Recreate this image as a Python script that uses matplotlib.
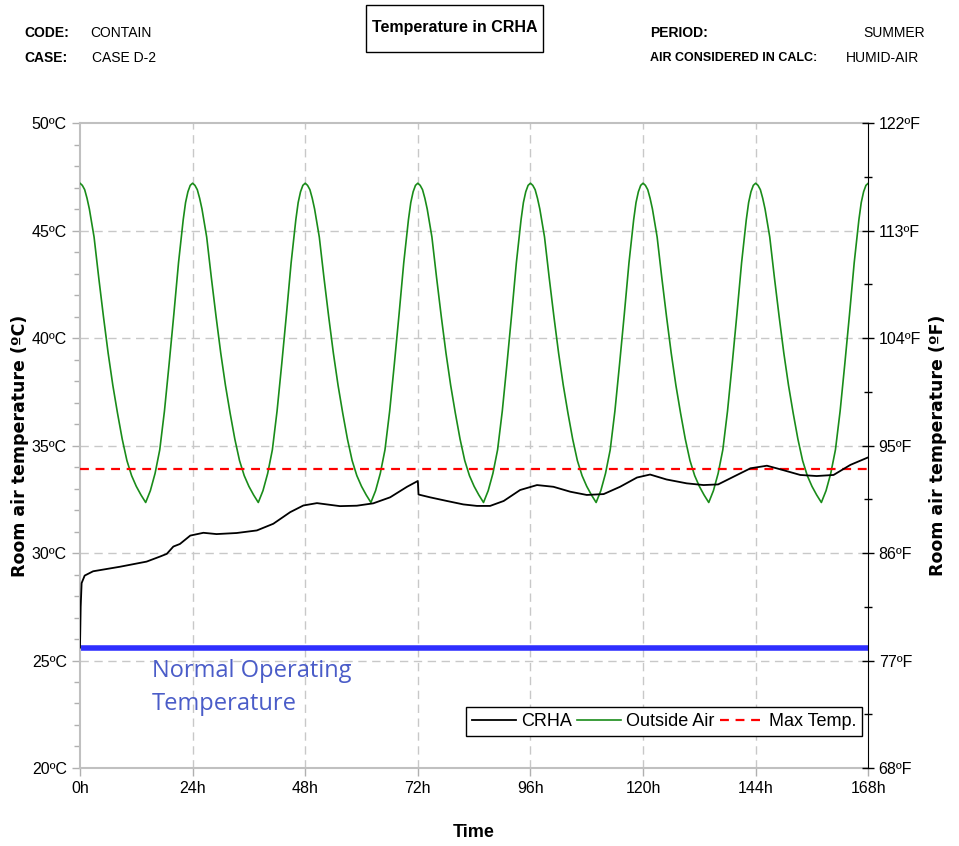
import matplotlib
matplotlib.use("Agg")
import matplotlib.pyplot as plt
import matplotlib.patches as mpatches
import numpy as np
from matplotlib.ticker import MultipleLocator, FixedLocator

# ── Data ──────────────────────────────────────────────────────────────────────
# Outside air: one daily cycle (hours from the peak), repeated every 24 h
OUT_HOURS = [0, 0.5, 1, 1.5, 2, 3, 4, 5, 6, 7, 8, 9, 10, 11, 12, 13, 14,
             15, 16, 17, 18, 19, 20, 21, 22, 22.5, 23, 23.5]
OUT_VALS = [47.2, 47.1, 46.9, 46.5, 46.0, 44.7, 42.8, 41.0, 39.3, 37.8, 36.5, 35.3,
            34.3, 33.6, 33.1, 32.7, 32.35, 32.9, 33.7, 34.8, 36.6, 38.8, 41.1, 43.5,
            45.5, 46.3, 46.8, 47.1]
N_DAYS = 7

# CRHA room temperature
CRHA_T = [0, 0.15, 0.35, 1, 2.8, 8.5, 14.2, 17, 18.5, 19.9, 21.3, 23.5, 26.3, 29.1,
          33.4, 37.7, 41.2, 44.8, 47.6, 50.5, 52.6, 55.4, 59, 62.5, 66.1, 69.7, 72.0,
          72.15, 74.6, 78.2, 81.7, 84.6, 87.4, 90.3, 93.8, 97.4, 100.9, 104.5, 108,
          111.6, 115.1, 118.7, 121.5, 125, 129.3, 132.9, 136, 139.3, 142.9, 146.4,
          149.3, 153.5, 157, 160.6, 164.2, 168]
CRHA_V = [25.6, 27.5, 28.6, 28.95, 29.15, 29.36, 29.6, 29.83, 29.96, 30.3, 30.42, 30.81,
          30.94, 30.88, 30.93, 31.05, 31.36, 31.9, 32.21, 32.32, 32.26, 32.18, 32.2, 32.31,
          32.59, 33.08, 33.35, 32.72, 32.59, 32.42, 32.26, 32.19, 32.19, 32.42, 32.93,
          33.16, 33.08, 32.85, 32.7, 32.74, 33.08, 33.51, 33.65, 33.42, 33.24, 33.16,
          33.19, 33.55, 33.94, 34.06, 33.89, 33.63, 33.58, 33.63, 34.1, 34.45]

MAX_TEMP = 33.9
NORMAL_TEMP = 25.6

X_TICKS = [0, 24, 48, 72, 96, 120, 144, 168]
C_TICKS = [20, 25, 30, 35, 40, 45, 50]
F_TICKS = [68, 77, 86, 95, 104, 113, 122]

plt.rcParams["font.family"] = ["Liberation Sans", "DejaVu Sans"]

# tile the daily cycle over the week (same read values each day)
out_t = np.concatenate([np.array(OUT_HOURS) + 24 * d for d in range(N_DAYS)] + [[168]])
out_v = np.concatenate([OUT_VALS] * N_DAYS + [[OUT_VALS[0]]])

fig = plt.figure(figsize=(9.59, 8.46), dpi=100)
ax = fig.add_axes([0.0834, 0.0922, 0.8220, 0.7624])

GRID = "#c8c8c8"
for x in X_TICKS[1:-1]:
    ax.axvline(x, color=GRID, ls=(0, (6, 4)), lw=1.0, zorder=0)
for y in C_TICKS[1:-1]:
    ax.axhline(y, color=GRID, ls=(0, (6, 4)), lw=1.0, zorder=0)

ax.axhline(NORMAL_TEMP, color="#2f2fff", lw=4, zorder=2)
ax.plot(out_t, out_v, color="#1a8c1a", lw=1.2, label="Outside Air", zorder=3)
ax.plot(CRHA_T, CRHA_V, color="black", lw=1.3, label="CRHA", zorder=4)
ax.axhline(MAX_TEMP, color="#ff0000", ls=(0, (4, 3)), lw=1.6, label="Max Temp.", zorder=3)

ax.set_xlim(0, 168)
ax.set_ylim(20, 50)
ax.set_xticks(X_TICKS)
ax.set_xticklabels([f"{x}h" for x in X_TICKS])
ax.set_yticks(C_TICKS)
ax.set_yticklabels([f"{c}ºC" for c in C_TICKS])
ax.yaxis.set_minor_locator(MultipleLocator(1))
ax.tick_params(axis="both", labelsize=11.5, color="#b0b0b0", length=6, width=1)
ax.tick_params(axis="y", which="minor", color="#b0b0b0", length=4, width=1)
for s in ax.spines.values():
    s.set_color("#c0c0c0")
    s.set_linewidth(1.5)
ax.spines["right"].set_visible(False)

ax.set_ylabel("Room air temperature (ºC)", fontsize=12.5, fontweight="bold",
              family="DejaVu Sans", labelpad=2)
ax.set_xlabel("Time", fontsize=13, fontweight="bold", labelpad=20)

# Right axis in ºF
ax2 = ax.twinx()
ax2.set_ylim(68, 122)
ax2.yaxis.set_major_locator(FixedLocator(F_TICKS))
ax2.yaxis.set_minor_locator(FixedLocator([f + 4.5 for f in F_TICKS[:-1]]))
ax2.set_yticklabels([f"{f}ºF" for f in F_TICKS])
ax2.tick_params(axis="y", labelsize=11.5, direction="inout", length=8, width=1)
ax2.tick_params(axis="y", which="minor", direction="inout", length=6, width=1)
for k in ("left", "top", "bottom"):
    ax2.spines[k].set_visible(False)
ax2.spines["right"].set_color("black")
ax2.set_ylabel("Room air temperature (ºF)", fontsize=12.5, fontweight="bold",
               family="DejaVu Sans", labelpad=6)

# Legend in one row, lower right
h, l = ax.get_legend_handles_labels()
order = [l.index("CRHA"), l.index("Outside Air"), l.index("Max Temp.")]
leg = ax.legend([h[i] for i in order], [l[i] for i in order], loc="lower right",
                ncol=3, fontsize=13, frameon=True, fancybox=False, framealpha=1,
                edgecolor="black", handlelength=2.4, columnspacing=0.3,
                handletextpad=0.3, borderpad=0.35, bbox_to_anchor=(1.004, 0.035))
leg.get_frame().set_linewidth(1.0)

ax.text(15.4, 25.05, "Normal Operating\nTemperature", color="#4a5cc8", fontsize=17,
        family="Open Sans", va="top", ha="left", linespacing=1.45, zorder=5)

# Header block
fig.text(0.025, 0.961, "CODE:", fontsize=10, fontweight="bold", va="center")
fig.text(0.094, 0.961, "CONTAIN", fontsize=10, va="center")
fig.text(0.025, 0.931, "CASE:", fontsize=10, fontweight="bold", va="center")
fig.text(0.096, 0.931, "CASE D-2", fontsize=10, va="center")
fig.text(0.678, 0.961, "PERIOD:", fontsize=10, fontweight="bold", va="center")
fig.text(0.964, 0.961, "SUMMER", fontsize=10, va="center", ha="right")
fig.text(0.678, 0.931, "AIR CONSIDERED IN CALC:", fontsize=9, fontweight="bold",
         va="center")
fig.text(0.958, 0.931, "HUMID-AIR", fontsize=10, va="center", ha="right")
fig.patches.append(mpatches.Rectangle((0.3816, 0.9385), 0.1846, 0.0556,
                                      transform=fig.transFigure, fc="white",
                                      ec="black", lw=1))
fig.text(0.4739, 0.967, "Temperature in CRHA", fontsize=11.5, fontweight="bold",
         va="center", ha="center")

fig.savefig("out.png", dpi=100)
